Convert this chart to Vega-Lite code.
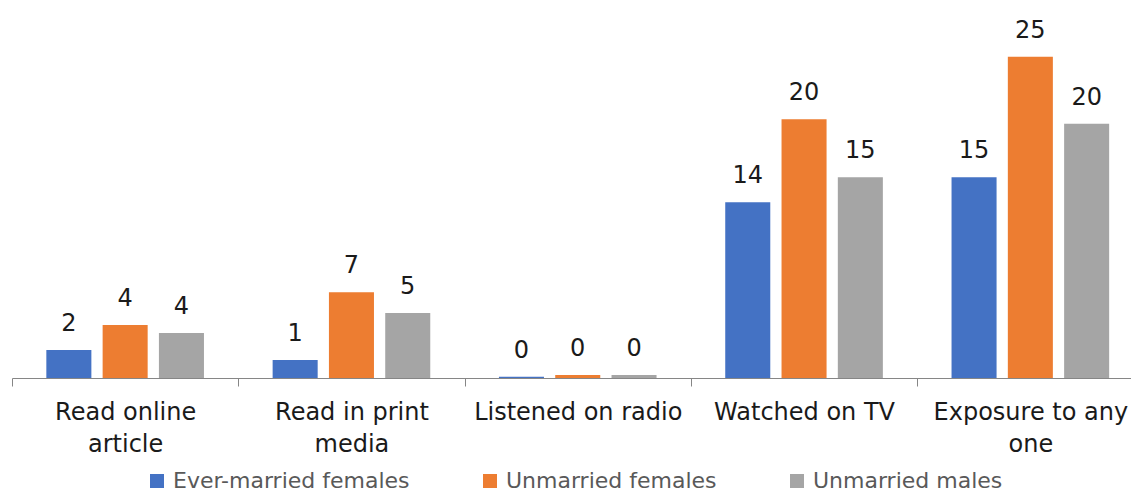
{
  "$schema": "https://vega.github.io/schema/vega-lite/v6.json",
  "width": 1119,
  "height": 370,
  "autosize": {"type": "none"},
  "padding": {"left": 12, "top": 8, "right": 0, "bottom": 115},
  "config": {"view": {"stroke": null}, "font": "DejaVu Sans"},
  "data": {
    "values": [
      {"category": "Read online article", "group": "Ever-married females", "value": 2.17, "label": "2"},
      {"category": "Read online article", "group": "Unmarried females", "value": 4.11, "label": "4"},
      {"category": "Read online article", "group": "Unmarried males", "value": 3.49, "label": "4"},
      {"category": "Read in print media", "group": "Ever-married females", "value": 1.40, "label": "1"},
      {"category": "Read in print media", "group": "Unmarried females", "value": 6.64, "label": "7"},
      {"category": "Read in print media", "group": "Unmarried males", "value": 5.04, "label": "5"},
      {"category": "Listened on radio", "group": "Ever-married females", "value": 0.10, "label": "0"},
      {"category": "Listened on radio", "group": "Unmarried females", "value": 0.23, "label": "0"},
      {"category": "Listened on radio", "group": "Unmarried males", "value": 0.23, "label": "0"},
      {"category": "Watched on TV", "group": "Ever-married females", "value": 13.62, "label": "14"},
      {"category": "Watched on TV", "group": "Unmarried females", "value": 20.05, "label": "20"},
      {"category": "Watched on TV", "group": "Unmarried males", "value": 15.56, "label": "15"},
      {"category": "Exposure to any one", "group": "Ever-married females", "value": 15.56, "label": "15"},
      {"category": "Exposure to any one", "group": "Unmarried females", "value": 24.91, "label": "25"},
      {"category": "Exposure to any one", "group": "Unmarried males", "value": 19.71, "label": "20"}
    ]
  },
  "encoding": {
    "x": {
      "field": "category",
      "type": "nominal",
      "sort": ["Read online article", "Read in print media", "Listened on radio", "Watched on TV", "Exposure to any one"],
      "scale": {"range": [0, 1131.5], "paddingInner": 0, "paddingOuter": 0},
      "axis": {
        "title": null,
        "labelAngle": 0,
        "domainColor": "#868686",
        "tickColor": "#868686",
        "tickBand": "extent",
        "tickSize": 8,
        "labelFontSize": 24,
        "labelColor": "#1a1a1a",
        "labelPadding": 14,
        "labelLineHeight": 32,
        "labelLimit": 0,
        "labelExpr": "datum.value == 'Read online article' ? ['Read online', 'article'] : datum.value == 'Read in print media' ? ['Read in print', 'media'] : datum.value == 'Exposure to any one' ? ['Exposure to any', 'one'] : datum.value"
      }
    },
    "xOffset": {
      "field": "group",
      "type": "nominal",
      "sort": ["Ever-married females", "Unmarried females", "Unmarried males"],
      "scale": {"paddingInner": 0.2, "paddingOuter": 0.61}
    },
    "y": {
      "field": "value",
      "type": "quantitative",
      "scale": {"domain": [0, 28.68], "nice": false},
      "axis": null
    }
  },
  "layer": [
    {
      "mark": {"type": "bar"},
      "encoding": {
        "color": {
          "field": "group",
          "type": "nominal",
          "scale": {
            "domain": ["Ever-married females", "Unmarried females", "Unmarried males"],
            "range": ["#4472C4", "#ED7D31", "#A5A5A5"]
          },
          "legend": {
            "orient": "none",
            "legendX": 134,
            "legendY": 462,
            "direction": "horizontal",
            "title": null,
            "symbolType": "square",
            "symbolSize": 196,
            "symbolStrokeWidth": 0,
            "labelFontSize": 22,
            "labelColor": "#595959",
            "labelOffset": 5,
            "columnPadding": 69,
            "labelLimit": 0
          }
        }
      }
    },
    {
      "mark": {"type": "text", "dy": -19, "baseline": "alphabetic", "fontSize": 24, "color": "#1a1a1a"},
      "encoding": {"text": {"field": "label", "type": "nominal"}}
    }
  ]
}
